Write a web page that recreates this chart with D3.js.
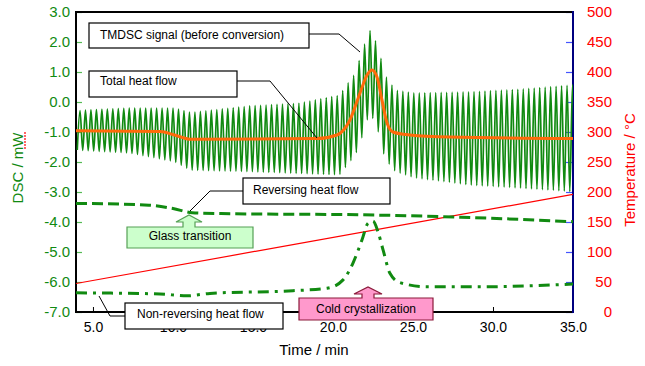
<!DOCTYPE html>
<html>
<head>
<meta charset="utf-8">
<script src="https://cdn.jsdelivr.net/npm/d3@7"></script>
<style>
  body { margin: 0; background: #fff; }
  svg { display: block; font-family: Arial, "Liberation Sans", sans-serif; }
</style>
</head>
<body>
<svg id="chart" width="645" height="366"></svg>
<script>
// ---- data ----
const xTicks = [5, 10, 15, 20, 25, 30, 35];
const dscTicks = [3, 2, 1, 0, -1, -2, -3, -4, -5, -6, -7];
const tempTicks = [0, 50, 100, 150, 200, 250, 300, 350, 400, 450, 500];

// TMDSC signal (before conversion): envelope of the modulation
const envTime  = [3.94, 7.3, 10.1, 11.1, 14.8, 17.9, 20.4, 21.4, 21.8, 22.3, 22.8, 23.25, 23.9, 25.1, 28.6, 31.7, 35];
const envUpper = [-0.29, -0.2, -0.2, -0.35, -0.13, -0.04, 0.23, 0.97, 1.68, 2.4, 1.9, 0.9, 0.4, 0.3, 0.34, 0.43, 0.57];
const envLower = [-1.6, -1.7, -1.99, -2.27, -2.32, -2.38, -2.43, -1.77, -1.2, -0.32, -0.93, -1.9, -2.32, -2.53, -2.77, -2.87, -2.99];
const modPeriod = 0.342;  // min
const firstPeak = 4.19;   // min

// Total heat flow
const totalTime = [3.94, 9.2, 10.1, 11.1, 19.0, 20.25, 21.06, 21.69, 22.13, 22.44, 22.75, 23.06, 23.38, 23.75, 24.8, 27.3, 35];
const totalDsc  = [-0.96, -0.98, -1.1, -1.24, -1.22, -1.1, -0.6, 0.3, 0.9, 1.07, 0.83, 0.07, -0.7, -1.0, -1.1, -1.17, -1.22];

// Reversing heat flow
const revTime = [3.94, 8.5, 10.0, 11.2, 13.0, 21.7, 28.0, 35];
const revDsc  = [-3.38, -3.44, -3.55, -3.69, -3.72, -3.76, -3.84, -3.99];

// Non-reversing heat flow
const nrTime = [3.94, 6.06, 9.19, 10.88, 12.31, 17.5, 19.63, 20.63, 21.25, 21.81, 22.19, 22.5, 22.81, 23.13, 23.56, 24.19, 25.88, 29.19, 35];
const nrDsc  = [-6.36, -6.37, -6.4, -6.46, -6.38, -6.29, -6.21, -5.93, -5.37, -4.6, -4.04, -3.97, -4.32, -4.93, -5.71, -6.02, -6.16, -6.16, -6.07];

// Temperature program
const tempTime = [3.94, 35];
const tempC    = [47.5, 196];

// ---- layout ----
const plotL = 76, plotR = 573, plotT = 12, plotB = 312;
const green = '#118a11';

const svg = d3.select('#chart');

const x = d3.scaleLinear().domain([3.94, 35]).range([plotL, plotR]);
const y = d3.scaleLinear().domain([-7, 3]).range([plotB, plotT]);
const yT = d3.scaleLinear().domain([0, 500]).range([plotB, plotT]);

svg.append('defs').append('clipPath').attr('id', 'plot')
    .append('rect').attr('x', plotL).attr('y', plotT)
    .attr('width', plotR - plotL).attr('height', plotB - plotT);

// axes
const gx = svg.append('g')
    .attr('transform', `translate(0,${plotB})`)
    .call(d3.axisBottom(x).tickValues(xTicks).tickFormat(d => d.toFixed(1))
        .tickSize(-5).tickSizeOuter(0).tickPadding(10));
gx.selectAll('text').attr('fill', '#000').style('font-size', '14px');
gx.selectAll('line').attr('stroke', '#000');
gx.select('.domain').remove();

const gl = svg.append('g')
    .attr('transform', `translate(${plotL},0)`)
    .call(d3.axisLeft(y).tickValues(dscTicks).tickFormat(d => d.toFixed(1))
        .tickSize(-6).tickSizeOuter(0).tickPadding(6));
gl.selectAll('text').attr('fill', green).style('font-size', '15px');
gl.selectAll('line').attr('stroke', '#55bb55').attr('stroke-width', 1.2);
gl.select('.domain').remove();

const gr = svg.append('g')
    .attr('transform', `translate(${plotR},0)`)
    .call(d3.axisRight(yT).tickValues(tempTicks).tickSize(-7).tickSizeOuter(0));
gr.selectAll('text').attr('fill', '#ff0000').style('font-size', '15px')
    .attr('text-anchor', 'end').attr('x', 39);
gr.selectAll('line').attr('stroke', '#4455ff').attr('stroke-width', 1.2);
gr.select('.domain').remove();

// frame
svg.append('line').attr('x1', plotL).attr('x2', plotR).attr('y1', plotT).attr('y2', plotT)
    .attr('stroke', '#000').attr('stroke-width', 2);
svg.append('line').attr('x1', plotL).attr('x2', plotR).attr('y1', plotB).attr('y2', plotB)
    .attr('stroke', '#000').attr('stroke-width', 2);
svg.append('line').attr('x1', plotL).attr('x2', plotL).attr('y1', plotT - 1).attr('y2', plotB + 1)
    .attr('stroke', '#000').attr('stroke-width', 2);
svg.append('line').attr('x1', plotR).attr('x2', plotR).attr('y1', plotT - 1).attr('y2', plotB + 1)
    .attr('stroke', '#000080').attr('stroke-width', 2);

// axis titles
svg.append('text').attr('transform', 'translate(23,168) rotate(-90)')
    .attr('text-anchor', 'middle').attr('fill', green).style('font-size', '15px')
    .text('DSC / mW');
svg.append('line').attr('x1', 25).attr('x2', 25).attr('y1', 132).attr('y2', 150)
    .attr('stroke', '#ff0000').attr('stroke-width', 1.2).attr('stroke-dasharray', '2,1');
svg.append('text').attr('transform', 'translate(635,170) rotate(-90)')
    .attr('text-anchor', 'middle').attr('fill', '#ff0000').style('font-size', '15px')
    .text('Temperature / °C');
svg.append('text').attr('x', 314).attr('y', 355)
    .attr('text-anchor', 'middle').attr('fill', '#000').style('font-size', '15px')
    .text('Time / min');

// series
const plot = svg.append('g').attr('clip-path', 'url(#plot)');
const zip = (a, b) => a.map((v, i) => [v, b[i]]);

const lineT = d3.line().x(d => x(d[0])).y(d => yT(d[1]));
plot.append('path').datum(zip(tempTime, tempC))
    .attr('d', lineT).attr('fill', 'none').attr('stroke', '#ff0000').attr('stroke-width', 1.2);

const line = d3.line().x(d => x(d[0])).y(d => y(d[1])).curve(d3.curveMonotoneX);

plot.append('path').datum(zip(revTime, revDsc))
    .attr('d', line).attr('fill', 'none').attr('stroke', green)
    .attr('stroke-width', 3).attr('stroke-dasharray', '11,5');

plot.append('path').datum(zip(nrTime, nrDsc))
    .attr('d', line).attr('fill', 'none').attr('stroke', green)
    .attr('stroke-width', 3).attr('stroke-dasharray', '11,6,3,6');

// modulated signal: alternate between upper and lower envelope at each half period
const upper = d3.scaleLinear().domain(envTime).range(envUpper).clamp(true);
const lower = d3.scaleLinear().domain(envTime).range(envLower).clamp(true);
const tm = [];
for (let k = -1; ; k++) {
    const t = firstPeak + k * modPeriod / 2;
    if (t > 35.2) break;
    tm.push([t, k % 2 === 0 ? upper(t) : lower(t)]);
}
plot.append('path').datum(tm)
    .attr('d', line).attr('fill', 'none').attr('stroke', green).attr('stroke-width', 1.7);

plot.append('path').datum(zip(totalTime, totalDsc))
    .attr('d', line).attr('fill', 'none').attr('stroke', '#ff6a0a').attr('stroke-width', 3);

// ---- annotations ----
const connector = pts => svg.append('polyline')
    .attr('points', pts.map(p => p.join(',')).join(' '))
    .attr('fill', 'none').attr('stroke', '#000').attr('stroke-width', 1);

function box(x0, y0, x1, y1, label, tx, ty, anchor) {
    svg.append('rect').attr('x', x0).attr('y', y0).attr('width', x1 - x0).attr('height', y1 - y0)
        .attr('fill', '#fff').attr('stroke', '#000').attr('stroke-width', 1.2);
    svg.append('text').attr('x', tx).attr('y', ty).attr('text-anchor', anchor || 'start')
        .style('font-size', '12px').attr('fill', '#000').text(label);
}

function arrowBox(x0, y0, x1, y1, ax, sw, hw, tipY, neckY, fill, stroke, label, ty) {
    const p = d3.path();
    p.moveTo(x0, y0);
    p.lineTo(ax - sw, y0); p.lineTo(ax - sw, neckY); p.lineTo(ax - hw, neckY);
    p.lineTo(ax, tipY);
    p.lineTo(ax + hw, neckY); p.lineTo(ax + sw, neckY); p.lineTo(ax + sw, y0);
    p.lineTo(x1, y0); p.lineTo(x1, y1); p.lineTo(x0, y1); p.closePath();
    svg.append('path').attr('d', p.toString()).attr('fill', fill)
        .attr('stroke', stroke).attr('stroke-width', 1.2);
    svg.append('text').attr('x', (x0 + x1) / 2).attr('y', ty).attr('text-anchor', 'middle')
        .style('font-size', '12px').attr('fill', '#000').text(label);
}

connector([[309, 34], [339, 34], [360, 52]]);
box(89, 23, 309, 48, 'TMDSC signal (before conversion)', 100, 39);

connector([[237, 81], [270, 81], [317, 138]]);
box(89, 71, 237, 97, 'Total heat flow', 100, 85);

connector([[243, 191], [210, 191], [190, 211]]);
box(243, 178, 390, 204, 'Reversing heat flow', 253, 194);

arrowBox(127, 227, 253, 248, 189, 6, 13, 215, 222, '#ccffcc', '#55a055', 'Glass transition', 240);

connector([[99, 296], [110, 316], [125, 316]]);
box(125, 303, 283, 329, 'Non-reversing heat flow', 137, 318);

arrowBox(299, 298, 433, 320, 368, 6, 14, 287, 294, '#ff99cc', '#8b1a3a', 'Cold crystallization', 313);
</script>
</body>
</html>
